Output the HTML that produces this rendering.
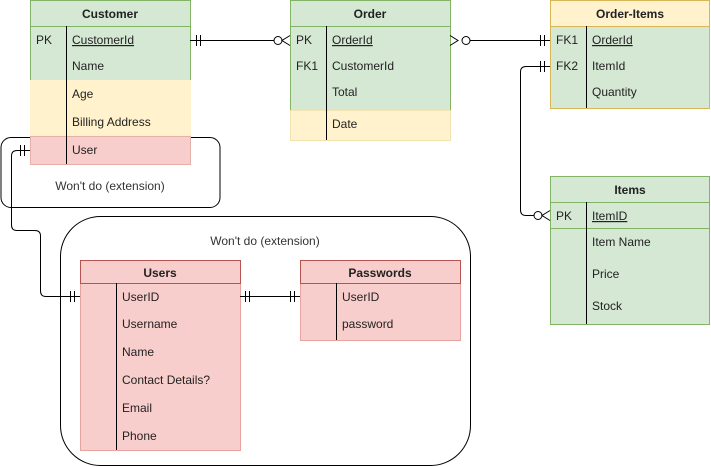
<!DOCTYPE html>
<html><head><meta charset="utf-8"><style>
html,body{margin:0;padding:0;background:#fff;}
svg{display:block;font-family:"Liberation Sans",Arial,sans-serif;font-size:12px;}
.h{font-weight:bold;text-anchor:middle;fill:#222;}
.t{fill:#222;}
</style></head><body>
<svg width="711" height="467" viewBox="0 0 711 467" xmlns="http://www.w3.org/2000/svg">
<!-- boxes -->
<rect x="1" y="137.5" width="219" height="70" rx="10" fill="none" stroke="#000"/>
<text x="110" y="190" text-anchor="middle" fill="#333">Won't do (extension)</text>
<rect x="60.5" y="216.5" width="410" height="249" rx="40" fill="#fff" stroke="#000"/>
<text x="265" y="245" text-anchor="middle" fill="#333">Won't do (extension)</text>

<!-- Customer -->
<rect x="30.5" y="0.5" width="160" height="80" fill="#d5e8d4" stroke="#82b366"/>
<rect x="30.5" y="80.5" width="160" height="56" fill="#fff2cc" stroke="#fff2cc"/>
<rect x="30.5" y="136.5" width="160" height="28" fill="#f8cecc" stroke="#e6b0aa"/>
<line x1="30.5" y1="26.5" x2="190.5" y2="26.5" stroke="#82b366"/>
<line x1="66.5" y1="26" x2="66.5" y2="164" stroke="#000"/>
<text class="h" x="110" y="18">Customer</text>
<text class="t" x="36" y="44">PK</text><text class="t" x="72" y="44" text-decoration="underline">CustomerId</text>
<text class="t" x="72" y="70">Name</text>
<text class="t" x="72" y="98">Age</text>
<text class="t" x="72" y="126">Billing Address</text>
<text class="t" x="72" y="154">User</text>

<!-- Order -->
<rect x="290.5" y="0.5" width="160" height="110" fill="#d5e8d4" stroke="#82b366"/>
<rect x="290.5" y="110.5" width="160" height="30" fill="#fff2cc" stroke="#f3e3b0"/>
<line x1="290.5" y1="26.5" x2="450.5" y2="26.5" stroke="#82b366"/>
<line x1="326.5" y1="26" x2="326.5" y2="140" stroke="#000"/>
<text class="h" x="370" y="18">Order</text>
<text class="t" x="296" y="44">PK</text><text class="t" x="332" y="44" text-decoration="underline">OrderId</text>
<text class="t" x="296" y="70">FK1</text><text class="t" x="332" y="70">CustomerId</text>
<text class="t" x="332" y="96">Total</text>
<text class="t" x="332" y="128">Date</text>

<!-- Order-Items -->
<rect x="550.5" y="0.5" width="159" height="26" fill="#fff2cc" stroke="#d6b656"/>
<rect x="550.5" y="26.5" width="159" height="82" fill="#d5e8d4" stroke="#d6b656"/>
<line x1="586.5" y1="26" x2="586.5" y2="108" stroke="#000"/>
<text class="h" x="630" y="18">Order-Items</text>
<text class="t" x="556" y="44">FK1</text><text class="t" x="592" y="44" text-decoration="underline">OrderId</text>
<text class="t" x="556" y="70">FK2</text><text class="t" x="592" y="70">ItemId</text>
<text class="t" x="592" y="96">Quantity</text>

<!-- Items -->
<rect x="550.5" y="176.5" width="159" height="148" fill="#d5e8d4" stroke="#82b366"/>
<line x1="550.5" y1="202.5" x2="709.5" y2="202.5" stroke="#82b366"/>
<line x1="550.5" y1="228.5" x2="709.5" y2="228.5" stroke="#82b366"/>
<line x1="586.5" y1="202" x2="586.5" y2="324" stroke="#000"/>
<text class="h" x="630" y="194">Items</text>
<text class="t" x="556" y="220">PK</text><text class="t" x="592" y="220" text-decoration="underline">ItemID</text>
<text class="t" x="592" y="246">Item Name</text>
<text class="t" x="592" y="278">Price</text>
<text class="t" x="592" y="310">Stock</text>

<!-- Users -->
<rect x="80.5" y="260.5" width="160" height="190" fill="#f8cecc" stroke="#e6a3a0"/>
<line x1="80.5" y1="283.5" x2="240.5" y2="283.5" stroke="#b85450"/>
<rect x="80.5" y="260.5" width="160" height="23" fill="none" stroke="#b85450"/>
<line x1="116.5" y1="283" x2="116.5" y2="450" stroke="#000"/>
<text class="h" x="160" y="277">Users</text>
<text class="t" x="122" y="301">UserID</text>
<text class="t" x="122" y="328">Username</text>
<text class="t" x="122" y="356">Name</text>
<text class="t" x="122" y="384">Contact Details?</text>
<text class="t" x="122" y="412">Email</text>
<text class="t" x="122" y="440">Phone</text>

<!-- Passwords -->
<rect x="300.5" y="260.5" width="160" height="80" fill="#f8cecc" stroke="#e6a3a0"/>
<rect x="300.5" y="260.5" width="160" height="23" fill="none" stroke="#b85450"/>
<line x1="336.5" y1="283" x2="336.5" y2="340" stroke="#000"/>
<text class="h" x="380" y="277">Passwords</text>
<text class="t" x="342" y="301">UserID</text>
<text class="t" x="342" y="328">password</text>

<!-- connectors -->
<g fill="none" stroke="#000">
<line x1="190" y1="40.5" x2="278" y2="40.5"/>
<line x1="196.5" y1="35" x2="196.5" y2="46"/><line x1="200.5" y1="35" x2="200.5" y2="46"/>
<circle cx="278" cy="40.5" r="4" fill="#fff"/>
<path d="M290 35.5 L282 40.5 L290 45.5"/>

<line x1="462" y1="40.5" x2="550" y2="40.5"/>
<circle cx="466" cy="40.5" r="4" fill="#fff"/>
<path d="M450 35.5 L458 40.5 L450 45.5"/>
<line x1="540.5" y1="35" x2="540.5" y2="46"/><line x1="544.5" y1="35" x2="544.5" y2="46"/>

<path d="M550 66.5 L526 66.5 Q520.5 66.5 520.5 72 L520.5 210 Q520.5 215.5 526 215.5 L534 215.5"/>
<line x1="540.5" y1="61" x2="540.5" y2="72"/><line x1="544.5" y1="61" x2="544.5" y2="72"/>
<circle cx="538" cy="215.5" r="4" fill="#fff"/>
<path d="M550 210.5 L542 215.5 L550 220.5"/>

<path d="M30 150.5 L17 150.5 Q11.5 150.5 11.5 156 L11.5 225 Q11.5 230.5 17 230.5 L35 230.5 Q40.5 230.5 40.5 236 L40.5 291 Q40.5 296.5 46 296.5 L80 296.5"/>
<line x1="20.5" y1="145" x2="20.5" y2="156"/><line x1="24.5" y1="145" x2="24.5" y2="156"/>
<line x1="70.5" y1="291" x2="70.5" y2="302"/><line x1="74.5" y1="291" x2="74.5" y2="302"/>

<line x1="240" y1="296.5" x2="300" y2="296.5"/>
<line x1="245.5" y1="291" x2="245.5" y2="302"/><line x1="249.5" y1="291" x2="249.5" y2="302"/>
<line x1="290.5" y1="291" x2="290.5" y2="302"/><line x1="294.5" y1="291" x2="294.5" y2="302"/>
</g>
</svg>
</body></html>
